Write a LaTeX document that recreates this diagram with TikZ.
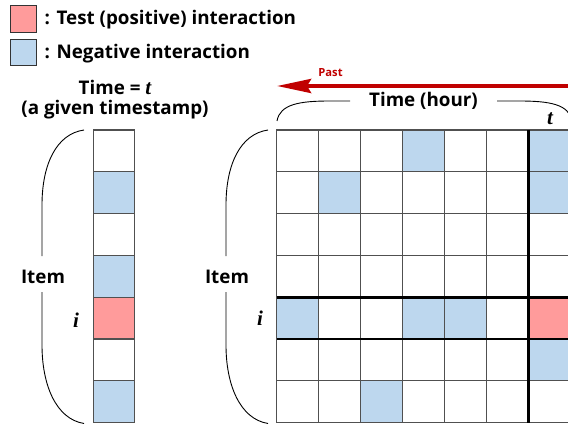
\documentclass[tikz,border=0pt]{standalone}
\usepackage{fontspec}
\setmainfont{Open Sans}
\newfontfamily\varfont{Liberation Serif}
\usetikzlibrary{arrows.meta}
\definecolor{posfill}{RGB}{255,155,155}
\definecolor{negfill}{RGB}{189,215,238}
\definecolor{gridgray}{RGB}{80,80,80}
\definecolor{pastred}{RGB}{192,0,0}
\newcommand{\vv}[1]{{\fontsize{21}{24}\varfont\bfseries\itshape #1}}
\begin{document}
\begin{tikzpicture}[x=1pt,y=-1pt,
  cellbox/.style={draw=gridgray, line width=1.2pt, minimum width=42pt, minimum height=41.8pt, inner sep=0pt, outer sep=0pt},
  colbox/.style={draw=gridgray, line width=1.2pt, minimum width=41.4pt, minimum height=41.8pt, inner sep=0pt, outer sep=0pt},
  legbox/.style={draw=black!80, line width=1pt, minimum width=26.5pt, minimum height=26.5pt, inner sep=0pt},
  thickline/.style={draw=black, line width=2.6pt},
  bracel/.style={draw=black, line width=0.9pt},
  lbl/.style={font=\fontsize{18.8}{22}\selectfont\bfseries, inner sep=0pt},
  varlbl/.style={font=\fontsize{21}{24}\selectfont, inner sep=0pt},
  pastlbl/.style={font=\fontsize{11.2}{13}\selectfont\bfseries, text=pastred, inner sep=0pt},
  pastarrow/.style={draw=pastred, line width=4pt, -{Stealth[length=34pt, width=14pt, inset=4pt]}}]
\useasboundingbox (0,0) rectangle (568,425);

% legend
\node[legbox, fill=posfill] (legpos) at (23.5,19) {};
\node[legbox, fill=negfill] (legneg) at (23.5,52.5) {};
\node[lbl, anchor=base west] (legpostxt) at (44.5,25) {: Test (positive) interaction};
\node[lbl, anchor=base west] (legnegtxt) at (44.5,58.5) {: Negative interaction};

% left column
\foreach \r in {0,...,6}
  \node[colbox, anchor=north west] (l-\r) at (93.3,{130+41.8*\r}) {};
\foreach \r in {1,3,6}
  \node[colbox, fill=negfill] (ln-\r) at (l-\r.center) {};
\node[colbox, fill=posfill] (lp-4) at (l-4.center) {};

\node[lbl, anchor=base] (timet) at (115,95) {Time = \vv{t}};
\node[lbl, anchor=base] (given) at (115,115) {(a given timestamp)};

% left brace
\coordinate (lbt) at (84,130);
\coordinate (lbg1) at (42,256);
\coordinate (lbg2) at (42,292);
\coordinate (lbb) at (84,423.5);
\draw[bracel] (lbt) .. controls (56,134) and (42,165) .. (42,205) -- (lbg1);
\draw[bracel] (lbg2) -- (42,345) .. controls (42,385) and (56,419) .. (lbb);
\node[lbl, anchor=base] (itemL) at (43,283) {Item};
\node[varlbl, anchor=base] (iL) at (76,327) {\vv{i}};

% main grid
\foreach \r in {0,...,6}
  \foreach \c in {0,...,6}
    \node[cellbox, anchor=north west] (g-\r-\c) at ({276.7+42*\c},{130+41.8*\r}) {};
\foreach \r/\c in {0/3,0/6,1/1,1/6,4/0,4/3,4/4,5/6,6/2}
  \node[cellbox, fill=negfill] (n-\r-\c) at (g-\r-\c.center) {};
\node[cellbox, fill=posfill] (p-4-6) at (g-4-6.center) {};
\draw[thickline] (g-4-0.north west) -- (g-4-6.north east);
\draw[thickline] (g-4-0.south west) -- (g-4-6.south east);
\draw[thickline] (g-0-6.north west) -- (g-6-6.south west);

% grid left brace
\coordinate (gbt) at (268,130);
\coordinate (gbg1) at (226,256);
\coordinate (gbg2) at (226,292);
\coordinate (gbb) at (268,423.5);
\draw[bracel] (gbt) .. controls (240,134) and (226,165) .. (226,205) -- (gbg1);
\draw[bracel] (gbg2) -- (226,345) .. controls (226,385) and (240,419) .. (gbb);
\node[lbl, anchor=base] (itemR) at (227,283) {Item};
\node[varlbl, anchor=base] (iR) at (260,325) {\vv{i}};

% top brace
\coordinate (tbl) at (277,121);
\coordinate (tbg1) at (350,101);
\coordinate (tbg2) at (497,101);
\coordinate (tbr) at (572,121);
\draw[bracel] (tbl) .. controls (280,104) and (300,101) .. (330,101) -- (tbg1);
\draw[bracel] (tbg2) -- (519,101) .. controls (549,101) and (569,104) .. (tbr);
\node[lbl, anchor=base] (timehour) at (423.5,107) {Time (hour)};
\node[varlbl, anchor=base] (tT) at (550,125) {\vv{t}};

% past arrow
\coordinate (pastR) at (570,86);
\coordinate (pastL) at (277,86);
\draw[pastarrow] (pastR) -- (pastL);
\node[pastlbl, anchor=base] (past) at (330.5,77) {Past};
\end{tikzpicture}
\end{document}
